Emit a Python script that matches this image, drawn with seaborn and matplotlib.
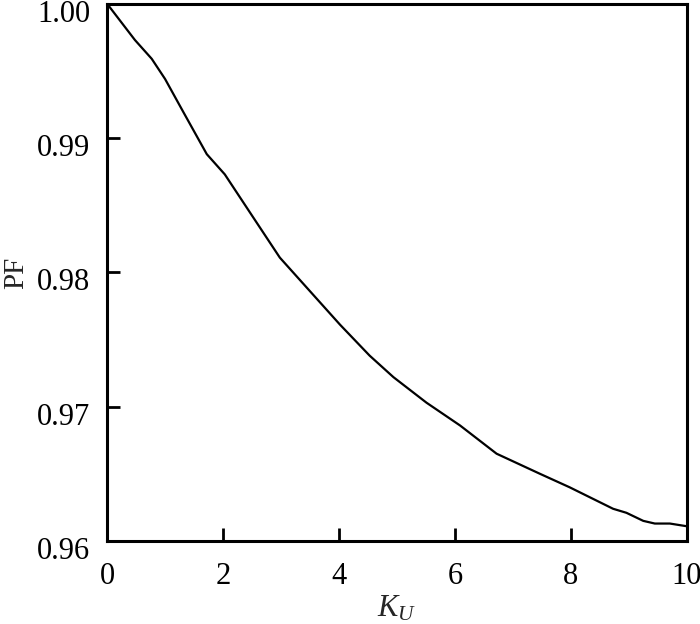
import numpy as np
import pandas as pd
import matplotlib
matplotlib.use("Agg")
import matplotlib.pyplot as plt
import matplotlib.transforms as mtransforms
import seaborn as sns

# values
ku = [0.0, 0.48, 0.77, 1.0, 1.32, 1.72, 2.03, 2.52, 2.98, 3.5, 4.02, 4.53,
      4.94, 5.51, 6.09, 6.72, 7.47, 7.98, 8.73, 8.96, 9.25, 9.45, 9.71, 10.0]
pf = [1.0000, 0.9973, 0.9959, 0.9944, 0.9919, 0.9888, 0.9873, 0.9841, 0.9811,
      0.9786, 0.9761, 0.9738, 0.9722, 0.9703, 0.9686, 0.9665, 0.9650,
      0.9640, 0.9624, 0.9621, 0.9615, 0.9613, 0.9613, 0.9611]
x_ticks = [0, 2, 4, 6, 8, 10]
y_ticks = [0.96, 0.97, 0.98, 0.99, 1.00]

df = pd.DataFrame({"KU": ku, "PF": pf})

sns.set_theme(style="white")
plt.rcParams["font.family"] = ["Liberation Serif", "DejaVu Serif"]
plt.rcParams["mathtext.fontset"] = "custom"
plt.rcParams["mathtext.rm"] = "Liberation Serif"
plt.rcParams["mathtext.it"] = "Liberation Serif:italic"

fig = plt.figure(figsize=(7.0, 6.24), dpi=100)
ax = fig.add_axes([0.153, 0.133, 0.828, 0.861])

sns.lineplot(data=df, x="KU", y="PF", ax=ax, color="black", linewidth=1.6)

ax.set_xlim(0, 10)
ax.set_ylim(0.96, 1.00)
ax.set_xticks(x_ticks)
ax.set_yticks(y_ticks)
ax.set_xticklabels([str(t) for t in x_ticks])
ax.set_yticklabels([f"{t:.2f}" for t in y_ticks])

for s in ax.spines.values():
    s.set_linewidth(2.2)
    s.set_color("black")

ax.tick_params(axis="both", direction="in", length=9.5, width=2.0,
               labelsize=22, colors="black", top=False, right=False,
               bottom=True, left=True)
ax.tick_params(axis="x", pad=15)
ax.tick_params(axis="y", pad=12)

# y tick labels sit a little below their ticks in the reference
offset = mtransforms.ScaledTranslation(0, -7 / 100, fig.dpi_scale_trans)
for lab in ax.get_yticklabels():
    lab.set_transform(lab.get_transform() + offset)

ax.set_xlabel("$K_U$", fontsize=22, labelpad=2)
ax.set_ylabel("PF", fontsize=21, labelpad=6)

fig.savefig("out.png", dpi=100)
